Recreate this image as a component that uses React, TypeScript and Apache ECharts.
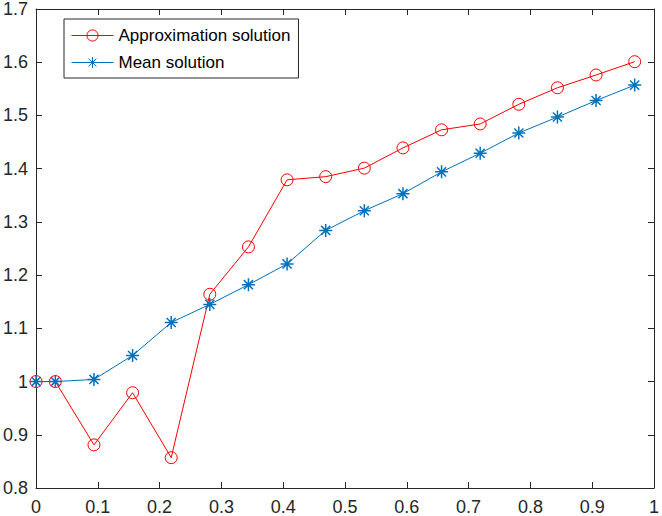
import React, { useEffect, useRef } from "react";
import * as echarts from "echarts";

const xValues = [0, 0.03125, 0.09375, 0.15625, 0.21875, 0.28125, 0.34375, 0.40625, 0.46875, 0.53125, 0.59375, 0.65625, 0.71875, 0.78125, 0.84375, 0.90625, 0.96875];
const approxValues = [1.0, 1.0, 0.881, 0.979, 0.857, 1.164, 1.253, 1.379, 1.385, 1.401, 1.439, 1.473, 1.484, 1.521, 1.552, 1.576, 1.601];
const meanValues = [1.0, 1.0, 1.004, 1.049, 1.111, 1.145, 1.182, 1.221, 1.284, 1.321, 1.353, 1.394, 1.429, 1.467, 1.497, 1.528, 1.557];
const seriesNames = ["Approximation solution", "Mean solution"];

const AXIS_COLOR = "#262626";
const FONT = "'Liberation Sans', Arial, Helvetica, sans-serif";
const ASTERISK = "path://M0,-1L0,1M-1,0L1,0M-0.7,-0.7L0.7,0.7M-0.7,0.7L0.7,-0.7";
const RING = "path://M1,0A1,1,0,1,1,-1,0A1,1,0,1,1,1,0Z";

export default function App() {
  const ref = useRef<HTMLDivElement>(null);
  useEffect(() => {
    if (!ref.current) return;
    const chart = echarts.init(ref.current, undefined, { renderer: "svg" });
    const axisCommon = {
      type: "value" as const,
      axisLine: { show: true, onZero: false, lineStyle: { color: AXIS_COLOR, width: 1 } },
      axisTick: { show: true, inside: true, length: 6, lineStyle: { color: AXIS_COLOR } },
      splitLine: { show: false },
    };
    chart.setOption({
      animation: false,
      backgroundColor: "#fff",
      textStyle: { fontFamily: FONT },
      grid: { left: 35, right: 2, top: 5, bottom: 28 },
      xAxis: [
        {
          ...axisCommon,
          position: "bottom",
          min: 0,
          max: 1,
          interval: 0.1,
          axisLabel: { color: AXIS_COLOR, fontSize: 18, margin: 10, fontFamily: FONT },
        },
        {
          ...axisCommon,
          position: "top",
          min: 0,
          max: 1,
          interval: 0.1,
          axisLabel: { show: false },
        },
      ],
      yAxis: [
        {
          ...axisCommon,
          position: "left",
          min: 0.8,
          max: 1.7,
          interval: 0.1,
          axisLabel: { color: AXIS_COLOR, fontSize: 18, margin: 8, fontFamily: FONT },
        },
        {
          ...axisCommon,
          position: "right",
          min: 0.8,
          max: 1.7,
          interval: 0.1,
          axisLabel: { show: false },
        },
      ],
      legend: {
        orient: "vertical",
        left: 64,
        top: 19,
        backgroundColor: "#fff",
        borderColor: AXIS_COLOR,
        borderWidth: 1,
        borderRadius: 0,
        padding: [8, 8, 7, 7],
        itemWidth: 42,
        itemHeight: 14,
        itemGap: 10,
        lineStyle: { width: 1 },
        itemStyle: { borderWidth: 1 },
        textStyle: { color: "#000", fontSize: 17, fontFamily: FONT },
        data: seriesNames,
      },
      series: [
        {
          name: seriesNames[0],
          type: "line",
          data: xValues.map((x, i) => [x, approxValues[i]]),
          symbol: RING,
          symbolSize: 12,
          showAllSymbol: true,
          lineStyle: { color: "#FF0000", width: 1 },
          itemStyle: { color: "none", borderColor: "#FF0000", borderWidth: 1 },
          emphasis: { disabled: true },
          clip: false,
          z: 2,
        },
        {
          name: seriesNames[1],
          type: "line",
          data: xValues.map((x, i) => [x, meanValues[i]]),
          symbol: ASTERISK,
          symbolSize: 13,
          showAllSymbol: true,
          lineStyle: { color: "#0072BD", width: 1 },
          itemStyle: { color: "#0072BD", borderColor: "#0072BD", borderWidth: 1.5 },
          emphasis: { disabled: true },
          clip: false,
          z: 3,
        },
      ],
    });
    return () => chart.dispose();
  }, []);
  return (
    <div
      ref={ref}
      style={{ position: "fixed", left: 0, top: 0, width: 662, height: 516, background: "#fff" }}
    />
  );
}
